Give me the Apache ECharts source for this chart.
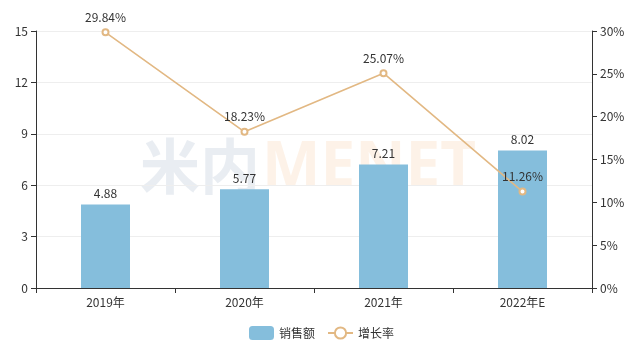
<!DOCTYPE html>
<html><head><meta charset="utf-8">
<script src="https://cdn.jsdelivr.net/npm/echarts@6/dist/echarts.min.js"></script>
<style>html,body{margin:0;padding:0;background:#fff}#c{width:643px;height:358px}</style>
</head><body><div id="c"></div>
<script>
const categories = ['2019年','2020年','2021年','2022年E'];
const sales = [4.88, 5.77, 7.21, 8.02];
const growth = [29.84, 18.23, 25.07, 11.26];
const chart = echarts.init(document.getElementById('c'));
const font = '"Microsoft YaHei","Noto Sans CJK SC",sans-serif';
chart.setOption({
  backgroundColor:'#fff',
  textStyle:{fontFamily:font},
  graphic:[
    {type:'text',left:140,top:136,z:0,style:{text:'米内',font:'bold 60px "Noto Sans CJK SC"',fill:'#e4e9ef',opacity:0.8}},
    {type:'text',left:262,top:137,z:0,style:{text:'MENET',font:'bold 62px "Noto Sans", sans-serif',fill:'#fdf1e5',opacity:0.9}}
  ],
  grid:{left:36,right:51,top:31,bottom:70},
  legend:{bottom:13,left:'center',itemWidth:25,itemHeight:14,itemGap:12,textStyle:{color:'#333',fontSize:12,fontFamily:font},
    data:[{name:'销售额',icon:'roundRect'},{name:'增长率'}]},
  xAxis:{type:'category',data:categories,
    axisLine:{lineStyle:{color:'#333'}},axisTick:{show:true,lineStyle:{color:'#333'}},
    axisLabel:{color:'#333',fontSize:12,margin:8}},
  yAxis:[
    {type:'value',min:0,max:15,interval:3,axisLine:{show:true,lineStyle:{color:'#333'}},axisTick:{show:true,lineStyle:{color:'#333'}},
      axisLabel:{color:'#333',fontSize:12},splitLine:{lineStyle:{color:'#eee'}}},
    {type:'value',min:0,max:30,interval:5,axisLine:{show:true,lineStyle:{color:'#333'}},axisTick:{show:true,lineStyle:{color:'#333'}},
      axisLabel:{color:'#333',fontSize:12,formatter:'{value}%'},splitLine:{show:false}}
  ],
  series:[
    {name:'销售额',type:'bar',data:sales,barWidth:49,itemStyle:{color:'#85bedc'},z:2,
      label:{show:true,position:'top',color:'#333',fontSize:12}},
    {name:'增长率',type:'line',yAxisIndex:1,data:growth,symbol:'emptyCircle',symbolSize:6,
      itemStyle:{color:'#e2b883'},lineStyle:{color:'#e2b883',width:1.6},z:3,
      label:{show:true,position:'top',color:'#333',fontSize:12,formatter:p=>p.value.toFixed(2)+'%'}}
  ]
});
</script></body></html>
